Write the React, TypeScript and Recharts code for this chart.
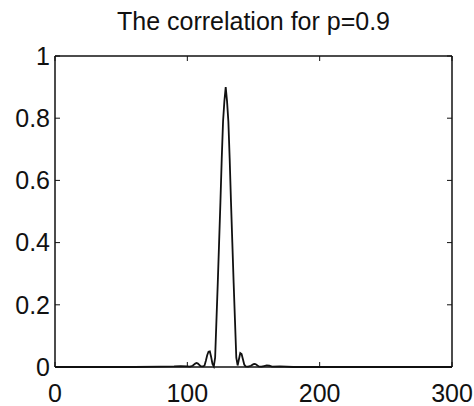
import * as React from 'react';
import { LineChart, Line, XAxis, YAxis } from 'recharts';

// sample positions (lag) and correlation values
const lags = [
    0, 20, 40, 60, 80, 90, 95, 100, 102, 104, 106, 107, 108, 110, 112,
    113, 114, 115, 116, 117, 118, 119, 120, 121, 122, 123, 124, 125, 126, 127, 128,
    129, 130, 131, 132, 133, 134, 135, 136, 137, 138, 139, 140, 141, 142, 143, 144,
    146, 148, 150, 151, 152, 154, 156, 158, 160, 162, 164, 170, 180, 200, 220, 250, 280, 300,
];
const correlation = [
    0, 0, 0, 0, 0.001, 0.002, 0.003, 0.002, 0.001, 0.004, 0.011, 0.013, 0.011, 0.003, 0.002,
    0.005, 0.02, 0.038, 0.049, 0.05, 0.032, 0.01, 0.002, 0.03, 0.15, 0.27, 0.4, 0.53, 0.67, 0.79, 0.855,
    0.9, 0.855, 0.79, 0.67, 0.53, 0.4, 0.27, 0.15, 0.03, 0.005, 0.025, 0.045, 0.042, 0.025, 0.008, 0.002,
    0.001, 0.004, 0.009, 0.01, 0.008, 0.002, 0.001, 0.003, 0.005, 0.004, 0.001, 0.002, 0, 0, 0, 0, 0, 0,
];

const xTicks = [0, 100, 200, 300];
const yTicks = [0, 0.2, 0.4, 0.6, 0.8, 1];
const title = 'The correlation for p=0.9';

const data = lags.map((x, i) => ({ x, y: correlation[i] }));

const font = '"Liberation Sans", Arial, sans-serif';
const tickStyle = { fontSize: 25, fill: '#111', fontFamily: font };
const axisLine = { stroke: '#111', strokeWidth: 1.5 };
const tickLine = { stroke: '#111', strokeWidth: 1 };

export default function App() {
    return (
        <div style={{ position: 'absolute', left: 0, top: 0, width: 474, height: 406, background: '#fff' }}>
            <div style={{
                position: 'absolute', left: 55, width: 397, top: 9, textAlign: 'center',
                fontSize: 25, lineHeight: '25px', fontFamily: font, color: '#111',
            }}>
                {title}
            </div>
            <LineChart width={474} height={406} data={data}
                margin={{ top: 55, right: 21, left: 0, bottom: 0 }}>
                <XAxis dataKey="x" type="number" domain={[0, 300]} ticks={xTicks} interval={0}
                    height={39} tickSize={-5} tickMargin={22} tick={tickStyle}
                    axisLine={axisLine} tickLine={tickLine} />
                <XAxis xAxisId="top" orientation="top" dataKey="x" type="number" domain={[0, 300]}
                    ticks={xTicks} interval={0} height={1} tickSize={-5} tickFormatter={() => ''}
                    axisLine={axisLine} tickLine={tickLine} />
                <YAxis type="number" domain={[0, 1]} ticks={yTicks} interval={0}
                    width={55} tickSize={-5} tickMargin={10} tick={tickStyle}
                    axisLine={axisLine} tickLine={tickLine} />
                <YAxis yAxisId="right" orientation="right" type="number" domain={[0, 1]}
                    ticks={yTicks} interval={0} width={1} tickSize={-5} tickFormatter={() => ''}
                    axisLine={axisLine} tickLine={tickLine} />
                {/* invisible copy so the top / right frame axes get drawn */}
                <Line xAxisId="top" yAxisId="right" type="linear" dataKey="y" stroke="none"
                    dot={false} activeDot={false} legendType="none" isAnimationActive={false} />
                <Line type="linear" dataKey="y" stroke="#111" strokeWidth={1.8}
                    dot={false} isAnimationActive={false} />
            </LineChart>
        </div>
    );
}
